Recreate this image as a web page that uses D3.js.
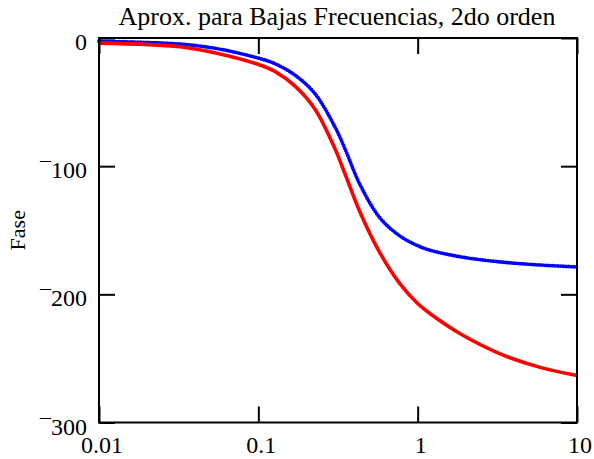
<!DOCTYPE html>
<html>
<head>
<meta charset="utf-8">
<script src="https://cdn.jsdelivr.net/npm/d3@7"></script>
<style>
  body { margin: 0; background: #fff; }
  text { font-family: "Liberation Serif", "Times New Roman", serif; fill: #000; }
</style>
</head>
<body>
<div id="chart"></div>
<script>
var width = 594,
    height = 459;

// values
var freq = [0.01, 0.0322, 0.0575, 0.1, 0.127, 0.17, 0.227, 0.303, 0.35, 0.435, 0.581, 0.775, 1, 1.2, 1.85, 3.29, 5.87, 10];
var fase2 = [-2.5, -4.7, -8.7, -15.7, -20, -29, -43.5, -69.5, -86.5, -114.5, -140.5, -154.5, -162, -165.6, -170.7, -174.7, -177.1, -178.6];
var faseAprox = [-4, -6.8, -12.4, -20.6, -26, -37.5, -55.5, -86.5, -106, -135.9, -167.9, -191.9, -207.2, -215.2, -230.8, -246.4, -257, -263.3];

var xTicks = [0.01, 0.1, 1, 10];
var xTickLabels = ["0.01", "0.1", "1", "10"];
var yTicks = [0, -100, -200, -300];

var margin = {top: 38, right: 17, bottom: 36.5, left: 99};

var svg = d3.select("#chart").append("svg")
    .attr("width", width)
    .attr("height", height);

var x = d3.scaleLog()
    .domain([0.01, 10])
    .range([margin.left, width - margin.right]);

var y = d3.scaleLinear()
    .domain([-300, 0])
    .range([height - margin.bottom, margin.top]);

var line = d3.line()
    .x(function(d) { return x(d[0]); })
    .y(function(d) { return y(d[1]); })
    .curve(d3.curveCatmullRom.alpha(0.5));

// blue series is plotted as a dense run of dots
svg.append("path")
    .datum(d3.zip(freq, fase2))
    .attr("fill", "none")
    .attr("stroke", "#0000ff")
    .attr("stroke-width", 3.8)
    .attr("stroke-linecap", "round")
    .attr("stroke-dasharray", "0 2.6")
    .attr("d", line);

svg.append("path")
    .datum(d3.zip(freq, faseAprox))
    .attr("fill", "none")
    .attr("stroke", "#ff0000")
    .attr("stroke-width", 3.6)
    .attr("d", line);

// frame
svg.append("rect")
    .attr("x", x(0.01))
    .attr("y", y(0))
    .attr("width", x(10) - x(0.01))
    .attr("height", y(-300) - y(0))
    .attr("fill", "none")
    .attr("stroke", "#000")
    .attr("stroke-width", 2);

var tickLen = 16;

function ticksOnly(g) {
    g.select(".domain").remove();
    g.selectAll("line").attr("stroke-width", 2);
}

// inward ticks on all four sides
svg.append("g")
    .attr("transform", "translate(0," + y(-300) + ")")
    .call(d3.axisBottom(x).tickValues(xTicks).tickSizeInner(-tickLen).tickSizeOuter(0).tickFormat(""))
    .call(ticksOnly);

svg.append("g")
    .attr("transform", "translate(0," + y(0) + ")")
    .call(d3.axisTop(x).tickValues(xTicks).tickSizeInner(-tickLen).tickSizeOuter(0).tickFormat(""))
    .call(ticksOnly);

svg.append("g")
    .attr("transform", "translate(" + x(0.01) + ",0)")
    .call(d3.axisLeft(y).tickValues(yTicks).tickSizeInner(-tickLen).tickSizeOuter(0).tickFormat(""))
    .call(ticksOnly);

svg.append("g")
    .attr("transform", "translate(" + x(10) + ",0)")
    .call(d3.axisRight(y).tickValues(yTicks).tickSizeInner(-tickLen).tickSizeOuter(0).tickFormat(""))
    .call(ticksOnly);

// tick labels
svg.selectAll(".xlab")
    .data(xTicks)
    .enter().append("text")
    .attr("class", "xlab")
    .attr("x", function(d) { return x(d) + 3; })
    .attr("y", y(-300) + 30)
    .style("text-anchor", "middle")
    .style("font-size", "24px")
    .text(function(d, i) { return xTickLabels[i]; });

var ylab = svg.selectAll(".ylab")
    .data(yTicks)
    .enter().append("text")
    .attr("class", "ylab")
    .attr("x", 87)
    .attr("y", function(d) { return y(d) + 12; })
    .style("text-anchor", "end")
    .style("font-size", "24px");

ylab.filter(function(d) { return d < 0; })
    .append("tspan")
    .attr("dy", -11)
    .style("font-size", "22px")
    .text("\u2013");
ylab.append("tspan")
    .attr("dy", function(d) { return d < 0 ? 11 : 0; })
    .text(function(d) { return Math.abs(d); });

// title
svg.append("text")
    .attr("x", 337)
    .attr("y", 25)
    .style("text-anchor", "middle")
    .style("font-size", "26px")
    .text("Aprox. para Bajas Frecuencias, 2do orden");

// y label
svg.append("text")
    .attr("transform", "translate(25," + (y(0) + y(-300)) / 2 + ") rotate(-90)")
    .style("text-anchor", "middle")
    .style("font-size", "22px")
    .text("Fase");
</script>
</body>
</html>
